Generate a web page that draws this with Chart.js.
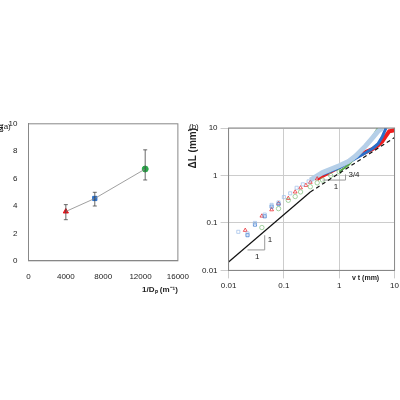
<!DOCTYPE html>
<html><head><meta charset="utf-8">
<script src="https://cdn.jsdelivr.net/npm/chart.js@4/dist/chart.umd.min.js"></script>
<style>
body{margin:0;background:#fff;width:400px;height:400px;position:relative;font-family:"Liberation Sans",Arial,sans-serif;overflow:hidden}
canvas{position:absolute}
.lbl{position:absolute;font-size:8px;color:#222}
</style></head><body>
<canvas id="ca" width="200" height="180" style="left:-8px;top:116px"></canvas>
<canvas id="cb" width="215" height="180" style="left:187px;top:114px"></canvas>
<div class="lbl" style="left:1px;top:122px">(a)</div>
<div class="lbl" style="left:189px;top:122px">(b)</div>
<script>
// panel (a)
const invD = [4000, 7100, 12500];
const nf = [3.6, 4.55, 6.7];
const nfLo = [3.0, 4.0, 5.9];
const nfHi = [4.1, 5.0, 8.1];
const ptColors = ["#e8141b", "#2a6fc9", "#2aa84a"];
const ptStyles = ["triangle", "rect", "circle"];

// panel (b)
const blueSqX = [0.015, 0.022, 0.03, 0.045, 0.06, 0.08, 0.1, 0.13, 0.17, 0.22, 0.28];
const blueSqY = [0.065, 0.06, 0.1, 0.15, 0.24, 0.27, 0.35, 0.42, 0.55, 0.65, 0.75];
const redTriX = [0.02, 0.04, 0.06, 0.08, 0.12, 0.16, 0.2, 0.25, 0.3, 0.4];
const redTriY = [0.07, 0.14, 0.19, 0.26, 0.33, 0.45, 0.55, 0.62, 0.72, 0.85];
const greenCirX = [0.04, 0.08, 0.12, 0.16, 0.2, 0.3, 0.4, 0.5, 0.7, 1];
const greenCirY = [0.08, 0.2, 0.3, 0.36, 0.45, 0.58, 0.7, 0.8, 1.0, 1.2];
const greenLineX = [1, 1.5, 2, 3, 4, 5];
const greenLineY = [1.2, 1.7, 2.5, 4, 6.5, 10];
const lightLineX = [0.3, 0.5, 1, 1.5, 2, 3, 4, 5, 6];
const lightLineY = [0.8, 1.15, 1.6, 2.0, 2.6, 4.2, 6.2, 8.5, 10];
const blueLineX = [0.5, 1, 2, 3, 4, 5, 6, 7];
const blueLineY = [1.05, 1.45, 2.3, 3.0, 3.7, 4.6, 6.5, 10];
const redLineX = [0.4, 0.6, 1, 1.5, 2, 3, 4, 5, 6, 7, 8, 10];
const redLineY = [0.85, 1.1, 1.5, 2.0, 2.5, 3.1, 3.6, 4.3, 5.2, 6.8, 8.5, 9];
const slope1X = [0.01, 0.3];
const slope1Y = [0.015, 0.45];
const slope34X = [0.3, 10];
const slope34Y = [0.45, 6.3];
const tri1X = [0.022, 0.045, 0.045];
const tri1Y = [0.027, 0.027, 0.055];
const tri2X = [0.5, 1.3, 1.3];
const tri2Y = [0.8, 0.8, 1.05];

const pts = (xs, ys) => xs.map((x, i) => ({ x, y: ys[i] }));
const tickFont = { size: 8, family: "Liberation Sans" };

const errorBars = {
  id: "errorBars",
  afterDatasetsDraw(c) {
    const { ctx, scales: { x, y } } = c;
    ctx.save();
    ctx.strokeStyle = "#444";
    ctx.lineWidth = 0.8;
    invD.forEach((v, i) => {
      const px = x.getPixelForValue(v);
      const y0 = y.getPixelForValue(nfLo[i]);
      const y1 = y.getPixelForValue(nfHi[i]);
      ctx.beginPath();
      ctx.moveTo(px, y0); ctx.lineTo(px, y1);
      ctx.moveTo(px - 2, y0); ctx.lineTo(px + 2, y0);
      ctx.moveTo(px - 2, y1); ctx.lineTo(px + 2, y1);
      ctx.stroke();
    });
    ctx.restore();
  }
};

new Chart(document.getElementById("ca"), {
  type: "scatter",
  data: {
    datasets: [
      { data: pts(invD, nf), showLine: true, borderColor: "#888", borderWidth: 0.8, pointRadius: 0 },
      ...invD.map((v, i) => ({
        data: [{ x: v, y: nf[i] }], pointStyle: ptStyles[i], pointRadius: 3,
        backgroundColor: ptColors[i], borderColor: ptColors[i]
      }))
    ]
  },
  options: {
    responsive: false, animation: false,
    layout: { padding: { left: 4, right: 12, top: 6, bottom: 0 } },
    plugins: { legend: { display: false }, tooltip: { enabled: false } },
    scales: {
      x: {
        min: 0, max: 16000,
        ticks: { stepSize: 4000, font: tickFont, color: "#222", maxRotation: 0, callback: v => String(v) },
        grid: { display: false }, border: { color: "#888" },
        title: { display: true, text: "1/Dₚ (m⁻¹)", align: "end", font: { size: 8, weight: "bold" }, color: "#222", padding: 1 }
      },
      y: {
        min: 0, max: 10,
        ticks: { stepSize: 2, font: tickFont, color: "#222" },
        grid: { display: false }, border: { color: "#888" },
        title: { display: true, text: "Nf", align: "end", font: { size: 8, weight: "bold" }, color: "#222", padding: 0 }
      }
    }
  },
  plugins: [errorBars, {
    id: "frame",
    afterDraw(c) {
      const a = c.chartArea, ctx = c.ctx;
      ctx.save(); ctx.strokeStyle = "#888"; ctx.lineWidth = 1;
      ctx.strokeRect(a.left, a.top, a.right - a.left, a.bottom - a.top);
      ctx.restore();
    }
  }]
});

const line = (xs, ys, color, w, dash) => ({
  data: pts(xs, ys), showLine: true, borderColor: color, borderWidth: w,
  pointRadius: 0, borderDash: dash || []
});
const marks = (xs, ys, color, style) => ({
  data: pts(xs, ys), pointStyle: style, pointRadius: 2.2, borderWidth: 0.7,
  borderColor: color, backgroundColor: "rgba(0,0,0,0)"
});

new Chart(document.getElementById("cb"), {
  type: "scatter",
  data: {
    datasets: [
      line(slope1X, slope1Y, "#111", 1.2),
      line(slope34X, slope34Y, "#111", 1.2, [4, 3]),
      line(tri1X, tri1Y, "#999", 1),
      line(tri2X, tri2Y, "#999", 1),
      marks(greenCirX, greenCirY, "#7dc07a", "circle"),
      marks(blueSqX, blueSqY, "#9bbbe8", "rect"),
      marks(blueSqX.slice(1, 6), blueSqY.slice(1, 6).map(v => v * 0.92), "#2a6fc9", "rect"),
      marks(redTriX, redTriY, "#e8141b", "triangle"),
      line(lightLineX, lightLineY, "#b5cfe8", 5),
      line(greenLineX, greenLineY, "#56a648", 2),
      line(blueLineX, blueLineY, "#2a6fc9", 3),
      line(redLineX, redLineY, "#ee1c1c", 4)
    ]
  },
  options: {
    responsive: false, animation: false,
    layout: { padding: { left: 0, right: 4, top: 14, bottom: 0 } },
    plugins: { legend: { display: false }, tooltip: { enabled: false } },
    scales: {
      x: {
        type: "logarithmic", min: 0.01, max: 10,
        afterBuildTicks: s => { s.ticks = [0.01, 0.1, 1, 10].map(v => ({ value: v })); },
        ticks: { font: tickFont, color: "#222", maxRotation: 0, callback: v => String(v) },
        grid: { color: "#ccc" }, border: { color: "#888" }
      },
      y: {
        type: "logarithmic", min: 0.01, max: 10,
        afterBuildTicks: s => { s.ticks = [0.01, 0.1, 1, 10].map(v => ({ value: v })); },
        ticks: { font: tickFont, color: "#222", callback: v => String(v) },
        grid: { color: "#ccc" }, border: { color: "#888" },
        title: { display: true, text: "ΔL (mm)", align: "end", font: { size: 10, weight: "bold" }, color: "#222", padding: 0 }
      }
    }
  },
  plugins: [{
    id: "notes",
    afterDraw(c) {
      const { ctx, scales: { x, y }, chartArea: a } = c;
      ctx.save();
      ctx.strokeStyle = "#888"; ctx.strokeRect(a.left, a.top, a.right - a.left, a.bottom - a.top);
      ctx.fillStyle = "#222"; ctx.font = "8px Liberation Sans";
      ctx.fillText("1", x.getPixelForValue(0.03), y.getPixelForValue(0.027) + 9);
      ctx.fillText("1", x.getPixelForValue(0.047) + 2, y.getPixelForValue(0.04));
      ctx.fillText("1", x.getPixelForValue(0.8), y.getPixelForValue(0.8) + 9);
      ctx.fillText("3/4", x.getPixelForValue(1.35) + 2, y.getPixelForValue(0.95));
      ctx.font = "bold 7px Liberation Sans";
      ctx.fillText("v t (mm)", x.getPixelForValue(1.7), a.bottom + 10);
      ctx.restore();
    }
  }]
});
</script>
</body></html>
